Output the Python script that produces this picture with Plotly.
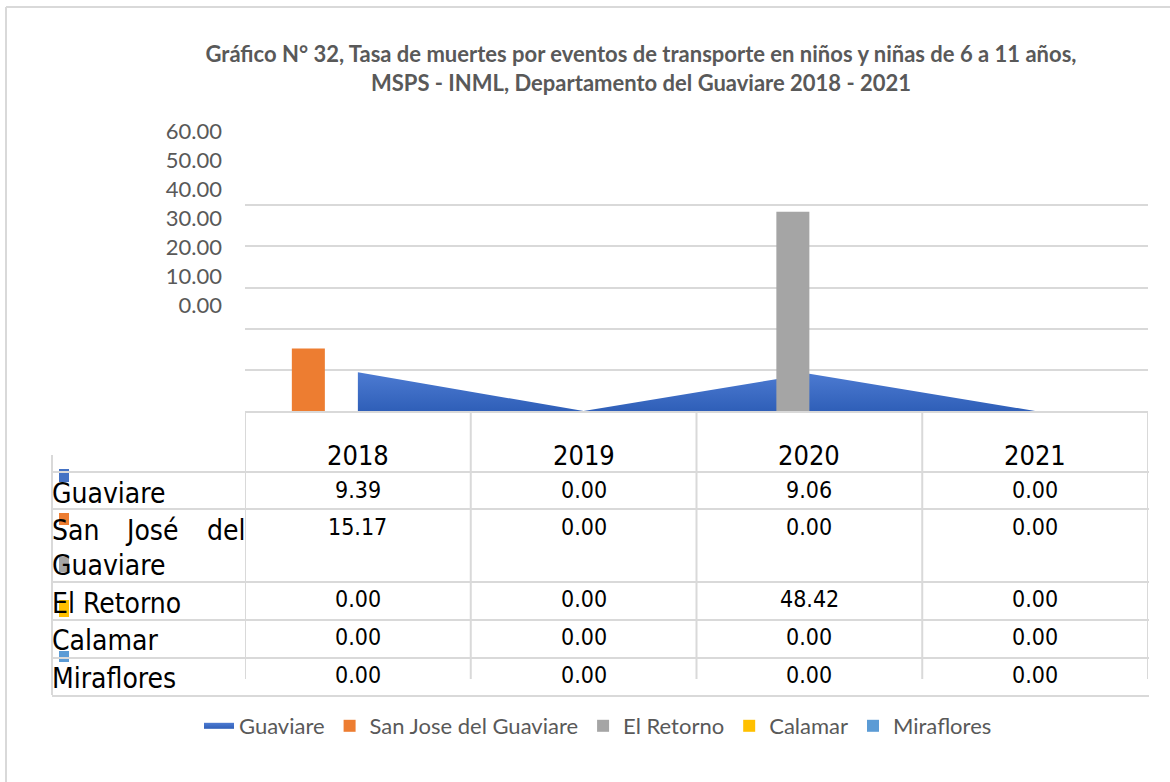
import plotly.graph_objects as go

# Rates per 100,000 children aged 6-11, by municipality and year
years = ["2018", "2019", "2020", "2021"]
guaviare = [9.39, 0.00, 9.06, 0.00]
san_jose = [15.17, 0.00, 0.00, 0.00]
el_retorno = [0.00, 0.00, 48.42, 0.00]
calamar = [0.00, 0.00, 0.00, 0.00]
miraflores = [0.00, 0.00, 0.00, 0.00]

series_names = ["Guaviare", "San Jose del Guaviare", "El Retorno", "Calamar", "Miraflores"]
row_labels = ["Guaviare", "San José del Guaviare", "El Retorno", "Calamar", "Miraflores"]
y_ticks = [0, 10, 20, 30, 40, 50, 60]

W, H = 1170, 782
def px(x):
    return x / W
def py(y):
    return 1 - y / H

BLUE, ORANGE, GRAY, GOLD, LBLUE = "#4472C4", "#ED7D31", "#A5A5A5", "#FFC000", "#5B9BD5"
GRID = "#d9d9d9"
TXT = "#595959"

fig = go.Figure()

# Guaviare as a filled area on the base axes (drawn underneath the bars)
fig.add_trace(go.Scatter(
    x=years, y=guaviare, name=series_names[0], mode="none",
    fill="tozeroy",
    fillgradient=dict(type="vertical",
                      colorscale=[[0, "#2f5fb8"], [1, "#4d7bd2"]]),
    fillcolor=BLUE, hoverinfo="skip", xaxis="x", yaxis="y",
))

# Municipal series as grouped bars on an overlaid axis
bar_cols = [ORANGE, GRAY, GOLD, LBLUE]
bar_data = [san_jose, el_retorno, calamar, miraflores]
for name, vals, col in zip(series_names[1:], bar_data, bar_cols):
    fig.add_trace(go.Bar(
        x=years, y=vals, name=name, marker=dict(color=col, line=dict(width=0)),
        xaxis="x", yaxis="y3", hoverinfo="skip",
    ))

# Carrier for the value-axis labels
fig.add_trace(go.Scatter(
    x=years, y=guaviare, mode="markers", marker=dict(opacity=0),
    showlegend=False, hoverinfo="skip", xaxis="x", yaxis="y2",
))

plot_top, plot_base = 164, 411
fig.update_layout(
    width=W, height=H, autosize=False,
    margin=dict(l=0, r=0, t=0, b=0, autoexpand=False),
    paper_bgcolor="white", plot_bgcolor="rgba(0,0,0,0)",
    barmode="group", bargap=0.415, bargroupgap=0,
    title=dict(
        text="Gráfico N° 32, Tasa de muertes por eventos de transporte en niños y niñas de 6 a 11 años,<br>"
             "MSPS - INML, Departamento del Guaviare 2018 - 2021",
        x=px(641), xanchor="center", y=py(62), yanchor="middle",
        font=dict(family="Lato", size=22, color=TXT, weight="bold"),
    ),
    xaxis=dict(
        type="category", range=[-0.5, 3.5], domain=[px(245), px(1148)],
        showticklabels=False, showgrid=False, showline=True,
        linecolor=GRID, linewidth=2, zeroline=False, ticks="",
    ),
    yaxis=dict(
        range=[0, 60], dtick=10, domain=[py(plot_base), py(plot_top)],
        showticklabels=False, showgrid=True, gridcolor=GRID, gridwidth=2,
        zeroline=False, showline=False, ticks="",
    ),
    yaxis3=dict(
        range=[0, 60], overlaying="y", visible=False,
    ),
    yaxis2=dict(
        range=[0, 60], tickmode="array", tickvals=y_ticks,
        ticktext=[f"{v:.2f}" for v in y_ticks],
        domain=[py(305), py(131)], anchor="x",
        showgrid=False, zeroline=False, showline=False, ticks="",
        ticklabelstandoff=22,
        tickfont=dict(family="Lato", size=22, color=TXT),
    ),
    legend=dict(
        orientation="h", x=px(598), xanchor="center", y=py(726), yanchor="middle",
        font=dict(family="Lato", size=22, color=TXT), itemwidth=30,
        traceorder="normal",
    ),
    showlegend=True,
)

shapes = []
line = dict(color=GRID, width=2)

# Outer frame (top and left edges)
shapes.append(dict(type="line", xref="paper", yref="paper",
                   x0=px(6), x1=1, y0=py(7), y1=py(7), line=line))
shapes.append(dict(type="line", xref="paper", yref="paper",
                   x0=px(6), x1=px(6), y0=py(7), y1=0, line=line))

# Data table grid under the plot
row_lines = [472, 509, 582, 620, 658, 696]
for y in row_lines:
    shapes.append(dict(type="line", xref="paper", yref="paper",
                       x0=px(52), x1=px(1149), y0=py(y), y1=py(y), line=line))
for i in range(len(years) + 1):
    shapes.append(dict(type="line", xref="x", yref="paper",
                       x0=i - 0.5, x1=i - 0.5, y0=py(411), y1=py(679), line=line))
shapes.append(dict(type="line", xref="paper", yref="paper",
                   x0=px(52), x1=px(52), y0=py(455), y1=py(695), line=line))

# Legend keys inside the row-label column
keys = [(BLUE, 469, 482), (ORANGE, 513, 525), (GRAY, 557, 572), (GOLD, 600, 617), (LBLUE, 651, 662)]
for col, y0, y1 in keys:
    shapes.append(dict(type="rect", xref="paper", yref="paper",
                       x0=px(59), x1=px(69), y0=py(y1), y1=py(y0),
                       fillcolor=col, line=dict(width=0), layer="below"))

annotations = []
TF = "DejaVu Sans Condensed"
# Category axes place annotations by category index
for i, yr in enumerate(years):
    annotations.append(dict(text=yr, x=i, xref="x", y=py(455), yref="paper",
                            showarrow=False, xanchor="center", yanchor="middle",
                            font=dict(family=TF, size=27, color="black")))

table_rows = [guaviare, san_jose, el_retorno, calamar, miraflores]
value_y = [490, 527, 599, 637, 675]
for vals, yy in zip(table_rows, value_y):
    for i, v in enumerate(vals):
        annotations.append(dict(text=f"{v:.2f}", x=i, xref="x", y=py(yy), yref="paper",
                                showarrow=False, xanchor="center", yanchor="middle",
                                font=dict(family=TF, size=23, color="black")))

# Row labels (the second one wraps over two lines, justified)
label_font = dict(family=TF, size=28, color="black")
def label(text, x, y, anchor="left"):
    annotations.append(dict(text=text, x=px(x), xref="paper", y=py(y), yref="paper",
                            showarrow=False, xanchor=anchor, yanchor="middle", font=label_font))

sj_words = row_labels[1].split(" ")
label(row_labels[0], 50, 493)
label(sj_words[0], 50, 530)
label(sj_words[1], 123, 530)
label(sj_words[2], 248, 530, anchor="right")
label(sj_words[3], 50, 565)
label(row_labels[2], 50, 603)
label(row_labels[3], 50, 640)
label(row_labels[4], 50, 678)

fig.update_layout(shapes=shapes, annotations=annotations)

fig.write_html("out.html")
